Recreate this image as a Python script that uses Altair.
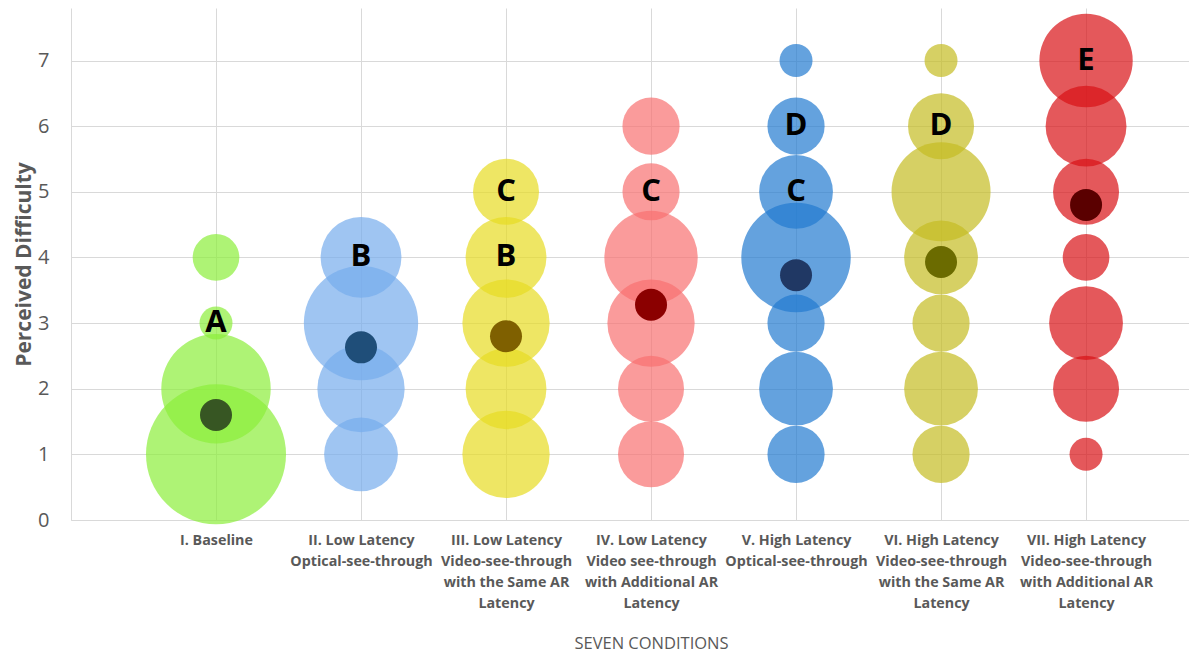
import altair as alt
import pandas as pd

# ---- data ----
cond_labels = [
    ["I. Baseline"],
    ["II. Low Latency", "Optical-see-through"],
    ["III. Low Latency", "Video-see-through", "with the Same AR", "Latency"],
    ["IV. Low Latency", "Video see-through", "with Additional AR", "Latency"],
    ["V. High Latency", "Optical-see-through"],
    ["VI. High Latency", "Video-see-through", "with the Same AR", "Latency"],
    ["VII. High Latency", "Video-see-through", "with Additional AR", "Latency"],
]
cond_index = [1, 2, 3, 4, 5, 6, 7]
difficulty_levels = [1, 2, 3, 4, 5, 6, 7]

# number of responses at each difficulty level 1..7 (bubble size)
counts_I = [18, 11, 1, 2, 0, 0, 0]
counts_II = [5, 7, 12, 6, 0, 0, 0]
counts_III = [7, 6, 7, 6, 4, 0, 0]
counts_IV = [4, 4, 7, 8, 3, 3, 0]
counts_V = [3, 5, 3, 11, 5, 3, 1]
counts_VI = [3, 5, 3, 5, 9, 4, 1]
counts_VII = [1, 4, 5, 2, 4, 6, 8]
all_counts = [counts_I, counts_II, counts_III, counts_IV, counts_V, counts_VI, counts_VII]

mean_difficulty = [1.6, 2.63, 2.8, 3.28, 3.73, 3.93, 4.8]

letter_cond = [1, 2, 3, 3, 4, 5, 5, 6, 7]
letter_level = [3, 4, 4, 5, 5, 5, 6, 6, 7]
letter_text = ["A", "B", "B", "C", "C", "C", "D", "D", "E"]

bubble_colors = ["#8CEE3A", "#76ACEC", "#E7DB22", "#F87070", "#227AD0", "#C4BC22", "#D81116"]
mean_colors = ["#375623", "#1F4E79", "#7F6000", "#8B0000", "#203864", "#6B6B00", "#5A0000"]

# ---- tables ----
rows = []
for ci, cnts in zip(cond_index, all_counts):
    for lvl, n in zip(difficulty_levels, cnts):
        if n > 0:
            rows.append({"cond": ci, "level": lvl, "count": n})
bubbles = pd.DataFrame(rows)
means = pd.DataFrame({"cond": cond_index, "mean": mean_difficulty})
letters = pd.DataFrame({"cond": letter_cond, "level": letter_level, "letter": letter_text})

label_js = "[" + ",".join(['""'] + ['"' + "|".join(l) + '"' for l in cond_labels]) + "]"
label_expr = f"split({label_js}[datum.value], '|')"

FONT = "Open Sans"
grid_col = "#D9D9D9"
xscale = alt.Scale(domain=[0, 7.71], nice=False, zero=False)
yscale = alt.Scale(domain=[0, 7.8], nice=False)

x_axis = alt.Axis(
    values=cond_index, grid=True, gridColor=grid_col, ticks=False,
    domainColor=grid_col, labelExpr=label_expr, labelOverlap=False, labelFlush=False,
    labelFont=FONT, labelFontSize=14.3,
    labelFontWeight="bold", labelColor="#595959", labelLineHeight=21, labelPadding=13,
    title="SEVEN CONDITIONS", titleX=580, titleY=123, titleBaseline="middle",
    titleFont=FONT, titleFontSize=16.5,
    titleFontWeight="normal", titleColor="#595959",
)
y_axis = alt.Axis(
    values=[0, 1, 2, 3, 4, 5, 6, 7], grid=True, gridColor=grid_col, ticks=False,
    domainColor=grid_col, format="d", labelFont=FONT, labelFontSize=20,
    labelColor="#595959", labelPadding=22, title="Perceived Difficulty",
    titleFont=FONT, titleFontSize=21, titleFontWeight="bold",
    titleColor="#595959", titlePadding=3,
)

bubble_layer = alt.Chart(bubbles).mark_circle(opacity=0.7).encode(
    x=alt.X("cond:Q", scale=xscale, axis=x_axis),
    y=alt.Y("level:Q", scale=yscale, axis=y_axis),
    size=alt.Size("count:Q", scale=alt.Scale(domain=[0, 18], range=[0, 19602]), legend=None),
    color=alt.Color("cond:N", scale=alt.Scale(domain=cond_index, range=bubble_colors), legend=None),
)

mean_layer = alt.Chart(means).mark_circle(size=1024, opacity=1).encode(
    x=alt.X("cond:Q", scale=xscale),
    y=alt.Y("mean:Q", scale=yscale),
    color=alt.Color("cond:N", scale=alt.Scale(domain=cond_index, range=mean_colors), legend=None),
)

letter_layer = alt.Chart(letters).mark_text(
    font=FONT, fontSize=31, fontWeight="bold", color="black", baseline="middle"
).encode(
    x=alt.X("cond:Q", scale=xscale),
    y=alt.Y("level:Q", scale=yscale),
    text="letter:N",
)

chart = (
    alt.layer(bubble_layer, mean_layer, letter_layer)
    .resolve_scale(color="independent")
    .properties(
        width=1118, height=512,
        autosize=alt.AutoSizeParams(type="none"),
        padding={"left": 63, "top": 0, "right": 0, "bottom": 133},
        background="white",
    )
    .configure_view(strokeWidth=0)
)

chart.save("out.html", embed_options={"renderer": "svg", "actions": False})
